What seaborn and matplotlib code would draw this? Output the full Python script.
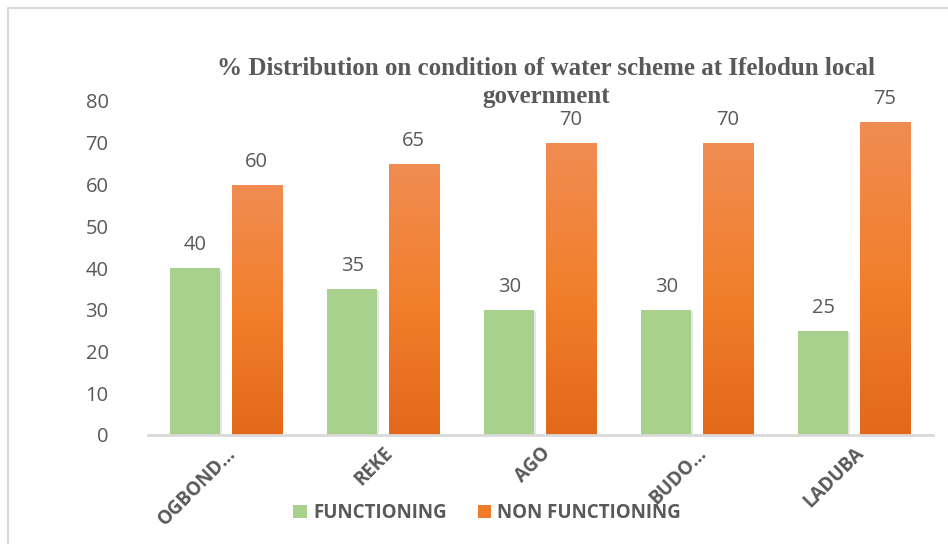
import numpy as np
import pandas as pd
import matplotlib
matplotlib.use("Agg")
import matplotlib.pyplot as plt
from matplotlib.lines import Line2D
from matplotlib.patches import Patch
from matplotlib import patheffects as pe
from matplotlib.colors import LinearSegmentedColormap
import seaborn as sns

# Data
sites = ["OGBOND…", "REKE", "AGO", "BUDO…", "LADUBA"]
functioning = [40, 35, 30, 30, 25]
non_functioning = [60, 65, 70, 70, 75]
statuses = ["FUNCTIONING", "NON FUNCTIONING"]
y_ticks = [0, 10, 20, 30, 40, 50, 60, 70, 80]

df = pd.DataFrame({
    "site": sites * 2,
    "pct": functioning + non_functioning,
    "status": [statuses[0]] * len(sites) + [statuses[1]] * len(sites),
})

GREEN = "#A9D18E"
ORANGE = "#F07B28"
TEXT = "#595959"

sns.set_theme(style="white")
plt.rcParams["font.family"] = ["Open Sans", "DejaVu Sans"]

fig = plt.figure(figsize=(9.48, 5.44), dpi=100)
ax = fig.add_axes([147.5 / 948, 1 - 435 / 544, (932.5 - 147.5) / 948, (435 - 101) / 544])

sns.barplot(data=df, x="site", y="pct", hue="status", hue_order=statuses,
            palette=[GREEN, ORANGE], saturation=1, width=0.78, gap=0.18,
            ax=ax, legend=False)

ax.set_ylim(0, 80)
ax.set_xlim(-0.5, len(sites) - 0.5)
ax.set_yticks(y_ticks)
ax.set_xlabel("")
ax.set_ylabel("")

shadow = [pe.SimplePatchShadow(offset=(1.2, -1.2), shadow_rgbFace="#909090", alpha=0.22),
          pe.Normal()]

# Orange bars get a vertical light-to-dark gradient
grad_cmap = LinearSegmentedColormap.from_list("og", ["#E2691A", "#F27F2C", "#F08C52"])
grad = np.linspace(0, 1, 256).reshape(-1, 1)
for container, color in zip(ax.containers, [GREEN, ORANGE]):
    for bar in container:
        bar.set_edgecolor("none")
        bar.set_path_effects(shadow)
        if color == ORANGE:
            x0, w, h = bar.get_x(), bar.get_width(), bar.get_height()
            im = ax.imshow(grad, cmap=grad_cmap, origin="lower", aspect="auto",
                           extent=(x0, x0 + w, 0, h), zorder=bar.get_zorder() + 0.1)
            im.set_clip_path(bar)
    ax.bar_label(container, labels=[f"{v:g}" for v in container.datavalues],
                 padding=9, fontsize=14.5, color=TEXT)

ax.set_xlim(-0.5, len(sites) - 0.5)
ax.set_ylim(0, 80)

for s in ["top", "right", "left"]:
    ax.spines[s].set_visible(False)
ax.spines["bottom"].set_color("#D9D9D9")
ax.spines["bottom"].set_linewidth(2)
ax.tick_params(axis="y", length=0, pad=28, labelsize=14.5, labelcolor=TEXT)
ax.tick_params(axis="x", length=0, pad=6, labelsize=13.5, labelcolor=TEXT)
for lbl in ax.get_xticklabels():
    lbl.set_rotation(45)
    lbl.set_ha("right")
    lbl.set_rotation_mode("anchor")
    lbl.set_fontweight("bold")
    lbl.set_fontsize(13.5)

# Legend
handles = [Patch(facecolor=GREEN, edgecolor="none"), Patch(facecolor=ORANGE, edgecolor="none")]
fig.legend(handles, statuses, loc="center", bbox_to_anchor=(0.514, 1 - 513 / 544),
           ncol=2, frameon=False, handlelength=0.7, handleheight=0.7,
           handletextpad=0.35, columnspacing=1.65,
           prop={"weight": "bold", "size": 13.5, "family": ["Open Sans", "DejaVu Sans"]},
           labelcolor=TEXT)

# Title
fig.text(0.576, 1 - 57 / 544,
         "% Distribution on condition of water scheme at Ifelodun local\ngovernment",
         ha="center", va="top", fontsize=18, fontweight="bold", color=TEXT,
         family=["Liberation Serif", "DejaVu Serif"], linespacing=1.3)

# Chart frame and caption fragment above it
fig.add_artist(Line2D([8 / 948, 8 / 948, 1.0], [0.0, 1 - 8 / 544, 1 - 8 / 544],
                      transform=fig.transFigure, color="#D9D9D9", lw=1.5))
fig.text(-0.012, 1.012, "scheme", ha="left", va="center", fontsize=17, color="black")

fig.savefig("out.png", dpi=100)
